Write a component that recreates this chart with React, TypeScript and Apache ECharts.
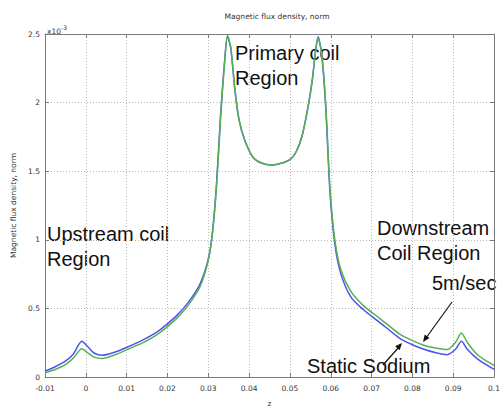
import React, { useEffect, useRef } from "react";
import * as echarts from "echarts";

const zValues = [
  -0.01, -0.0075, -0.005, -0.003, -0.001, 0.0005, 0.002, 0.004, 0.007, 0.01,
  0.014, 0.018, 0.022, 0.025, 0.028, 0.03, 0.031, 0.032, 0.033, 0.034,
  0.0347, 0.0355, 0.0365, 0.0375, 0.039, 0.041, 0.043, 0.0455, 0.048, 0.05,
  0.0515, 0.053, 0.0545, 0.0555, 0.0563, 0.0569, 0.0578, 0.0588, 0.0598, 0.061,
  0.0625, 0.065, 0.068, 0.071, 0.074, 0.077, 0.08, 0.083, 0.086, 0.0885,
  0.0905, 0.092, 0.0935, 0.096, 0.1,
];

// values in units of 1e-3
const staticSodium = [
  0.043, 0.075, 0.115, 0.17, 0.26, 0.22, 0.175, 0.158, 0.18, 0.215,
  0.27, 0.34, 0.44, 0.54, 0.68, 0.86, 1.05, 1.4, 1.9, 2.3,
  2.48, 2.4, 2.1, 1.88, 1.72, 1.6, 1.56, 1.545, 1.56, 1.585,
  1.64, 1.76, 1.98, 2.17, 2.38, 2.48, 2.35, 1.95, 1.35, 0.97,
  0.75, 0.58, 0.49, 0.42, 0.35, 0.28, 0.235, 0.2, 0.175, 0.163,
  0.2, 0.26, 0.2, 0.13, 0.055,
];

const flow5ms = [
  0.03, 0.055, 0.09, 0.14, 0.205, 0.175, 0.145, 0.135, 0.16, 0.198,
  0.25, 0.32, 0.42, 0.52, 0.66, 0.85, 1.04, 1.38, 1.88, 2.3,
  2.49, 2.4, 2.1, 1.88, 1.72, 1.6, 1.56, 1.545, 1.56, 1.585,
  1.64, 1.76, 1.98, 2.17, 2.38, 2.47, 2.35, 1.97, 1.38, 1.0,
  0.78, 0.62, 0.52, 0.45, 0.38, 0.31, 0.265, 0.23, 0.21, 0.2,
  0.25, 0.32, 0.25, 0.16, 0.084,
];

const titleText = "Magnetic flux density, norm";
const yAxisName = "Magnetic flux density, norm";
const xAxisName = "z";

const tickFont = "DejaVu Sans";
const bigFont = "Liberation Sans";

export default function App() {
  const ref = useRef<HTMLDivElement>(null);
  useEffect(() => {
    if (!ref.current) return;
    const chart = echarts.init(ref.current, null, { renderer: "svg" });
    const pair = (ys: number[]) => zValues.map((z, i) => [z, ys[i]]);
    const axisLineStyle = { color: "#7a7a7a", width: 1 };
    const splitStyle = { color: "#b8b8b8", type: [1, 2] as any, width: 1 };
    const option: any = {
      animation: false,
      backgroundColor: "#ffffff",
      title: {
        text: titleText,
        left: 272,
        top: 7,
        textAlign: "center",
        textStyle: { fontSize: 7.5, fontWeight: "normal", color: "#333", fontFamily: tickFont },
      },
      grid: { left: 45, right: 5, top: 34, bottom: 31, containLabel: false },
      xAxis: [
        {
          type: "value",
          min: -0.01,
          max: 0.1,
          interval: 0.01,
          name: xAxisName,
          nameLocation: "middle",
          nameGap: 22,
          nameTextStyle: { fontSize: 7.5, color: "#333", fontFamily: tickFont },
          axisLine: { show: true, onZero: false, lineStyle: axisLineStyle },
          axisTick: { show: true, inside: true, length: 4, lineStyle: axisLineStyle },
          axisLabel: {
            fontSize: 7.5,
            color: "#333",
            fontFamily: tickFont,
            margin: 7,
            formatter: (v: number) => String(+v.toFixed(3)),
          },
          splitLine: { show: true, lineStyle: splitStyle },
        },
        {
          type: "value",
          position: "top",
          min: -0.01,
          max: 0.1,
          interval: 0.01,
          axisLine: { show: true, onZero: false, lineStyle: axisLineStyle },
          axisTick: { show: true, inside: true, length: 4, lineStyle: axisLineStyle },
          axisLabel: { show: false },
          splitLine: { show: false },
        },
      ],
      yAxis: [
        {
          type: "value",
          min: 0,
          max: 2.5,
          interval: 0.5,
          name: yAxisName,
          nameLocation: "middle",
          nameGap: 24,
          nameTextStyle: { fontSize: 7.5, color: "#333", fontFamily: tickFont },
          axisLine: { show: true, onZero: false, lineStyle: axisLineStyle },
          axisTick: { show: true, inside: true, length: 4, lineStyle: axisLineStyle },
          axisLabel: {
            fontSize: 7.5,
            color: "#333",
            fontFamily: tickFont,
            margin: 5,
            formatter: (v: number) => String(+v.toFixed(2)),
          },
          splitLine: { show: true, lineStyle: splitStyle },
        },
        {
          type: "value",
          position: "right",
          min: 0,
          max: 2.5,
          interval: 0.5,
          axisLine: { show: true, onZero: false, lineStyle: axisLineStyle },
          axisTick: { show: true, inside: true, length: 4, lineStyle: axisLineStyle },
          axisLabel: { show: false },
          splitLine: { show: false },
        },
      ],
      series: [
        {
          name: "Static Sodium",
          type: "line",
          data: pair(staticSodium),
          showSymbol: false,
          smooth: 0.25,
          lineStyle: { color: "#5050f0", width: 1.5 },
          z: 2,
        },
        {
          name: "5m/sec",
          type: "line",
          data: pair(flow5ms),
          showSymbol: false,
          smooth: 0.25,
          lineStyle: { color: "#55b055", width: 1.5 },
          z: 3,
        },
      ],
      graphic: [
        { type: "text", x: 47, y: 31, style: { text: "x10", fontSize: 7.5, fill: "#333", fontFamily: tickFont, textVerticalAlign: "middle" } },
        { type: "text", x: 61, y: 27, style: { text: "-3", fontSize: 6, fill: "#333", fontFamily: tickFont, textVerticalAlign: "middle" } },
        { type: "text", x: 235, y: 53, style: { text: "Primary coil", fontSize: 20, fill: "#111", fontFamily: bigFont, textVerticalAlign: "middle" } },
        { type: "text", x: 235, y: 78, style: { text: "Region", fontSize: 20, fill: "#111", fontFamily: bigFont, textVerticalAlign: "middle" } },
        { type: "text", x: 47, y: 234, style: { text: "Upstream coil", fontSize: 20, fill: "#111", fontFamily: bigFont, textVerticalAlign: "middle" } },
        { type: "text", x: 47, y: 259, style: { text: "Region", fontSize: 20, fill: "#111", fontFamily: bigFont, textVerticalAlign: "middle" } },
        { type: "text", x: 377, y: 228, style: { text: "Downstream", fontSize: 20, fill: "#111", fontFamily: bigFont, textVerticalAlign: "middle" } },
        { type: "text", x: 377, y: 253, style: { text: "Coil Region", fontSize: 20, fill: "#111", fontFamily: bigFont, textVerticalAlign: "middle" } },
        { type: "text", x: 432, y: 283, style: { text: "5m/sec", fontSize: 20, fill: "#111", fontFamily: bigFont, textVerticalAlign: "middle" } },
        { type: "text", x: 307, y: 366, style: { text: "Static Sodium", fontSize: 20, fill: "#111", fontFamily: bigFont, textVerticalAlign: "middle" } },
        { type: "line", shape: { x1: 452, y1: 302, x2: 426, y2: 338 }, style: { stroke: "#111", lineWidth: 1.2 }, z: 10 },
        { type: "polygon", shape: { points: [[423, 342], [429.5, 338.1], [424.7, 334.5]] }, style: { fill: "#111" }, z: 10 },
        { type: "line", shape: { x1: 383, y1: 365, x2: 399, y2: 347 }, style: { stroke: "#111", lineWidth: 1.2 }, z: 10 },
        { type: "polygon", shape: { points: [[402, 343], [399.7, 350.3], [395.1, 346.3]] }, style: { fill: "#111" }, z: 10 },
      ],
    };
    chart.setOption(option);
    return () => chart.dispose();
  }, []);
  return (
    <div
      ref={ref}
      style={{ position: "fixed", left: 0, top: 0, width: 503, height: 412, background: "#fff" }}
    />
  );
}
